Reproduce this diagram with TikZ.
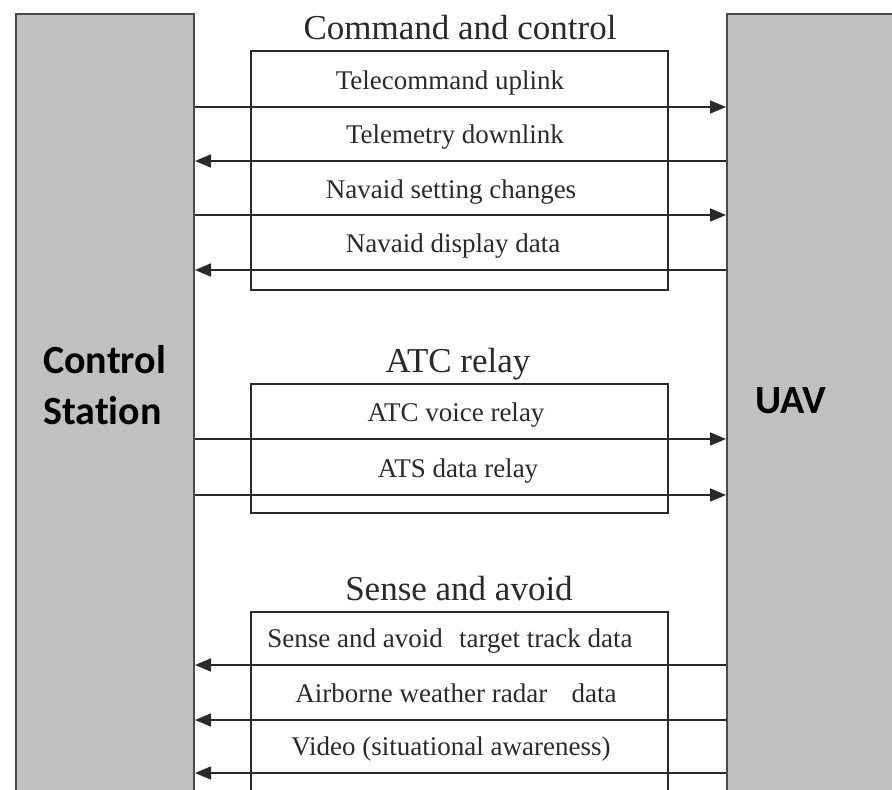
\documentclass[tikz,border=0pt]{standalone}
\usepackage{fontspec}
\setmainfont{Liberation Serif}
\newfontfamily\labfont[Ligatures=NoCommon]{Carlito}
\usetikzlibrary{arrows.meta}
\definecolor{bargray}{HTML}{C1C0BF}
\definecolor{edge}{HTML}{4A4A4A}
\definecolor{ink}{HTML}{2A2A2A}
\begin{document}
\begin{tikzpicture}[x=1pt,y=-1pt,
  barbox/.style={draw=edge,line width=2pt,fill=bargray,inner sep=0pt,anchor=north west},
  groupbox/.style={draw=ink,line width=1.6pt},
  title/.style={font=\fontsize{35}{40}\selectfont,text=ink,anchor=base,inner sep=0pt},
  item/.style={font=\fontsize{27}{30}\selectfont,text=ink,anchor=base,inner sep=0pt},
  lab/.style={font=\labfont\bfseries\fontsize{40}{51}\selectfont,text=black,anchor=base west,inner sep=0pt},
  link/.style={draw=ink,line width=1.6pt,-{Triangle[length=16pt,width=13pt]}}]
\useasboundingbox (0,0) rectangle (892,790);
\fill[white] (0,0) rectangle (892,790);
% bars
\node[barbox,minimum width=178pt,minimum height=800pt] (cs) at (15,13) {};
\node[barbox,minimum width=200pt,minimum height=800pt] (uav) at (726,13) {};
% group boxes
\draw[groupbox] (251,51) rectangle (668,290);
\draw[groupbox] (251,384) rectangle (668,513);
\draw[groupbox] (251,612) rectangle (668,810);
% titles
\node[title] (t1) at (460,39) {Command and control};
\node[title] (t2) at (458,372) {ATC relay};
\node[title] (t3) at (459,600) {Sense and avoid};
% items
\node[item] (i1) at (450,89) {Telecommand uplink};
\node[item] (i2) at (455,143) {Telemetry downlink};
\node[item] (i3) at (451,198) {Navaid setting changes};
\node[item] (i4) at (453,252) {Navaid display data};
\node[item] (i5) at (456,421) {ATC voice relay};
\node[item] (i6) at (458,477) {ATS data relay};
\node[item] (i7) at (450,647) {Sense and avoid\hspace{0.6em}target track data};
\node[item] (i8) at (456,702) {Airborne weather radar\hspace{0.9em}data};
\node[item] (i9) at (451,755) {Video (situational awareness)};
% connectors
\draw[link] (cs.east |- 0,107) -- (uav.west |- 0,107);
\draw[link] (uav.west |- 0,161) -- (cs.east |- 0,161);
\draw[link] (cs.east |- 0,215) -- (uav.west |- 0,215);
\draw[link] (uav.west |- 0,270) -- (cs.east |- 0,270);
\draw[link] (cs.east |- 0,439) -- (uav.west |- 0,439);
\draw[link] (cs.east |- 0,495) -- (uav.west |- 0,495);
\draw[link] (uav.west |- 0,665) -- (cs.east |- 0,665);
\draw[link] (uav.west |- 0,720) -- (cs.east |- 0,720);
\draw[link] (uav.west |- 0,773) -- (cs.east |- 0,773);
% labels
\node[lab,align=left] (csl) at (43,424) {Control\\Station};
\node[lab] (uavl) at (755,413) {UAV};
\end{tikzpicture}
\end{document}
